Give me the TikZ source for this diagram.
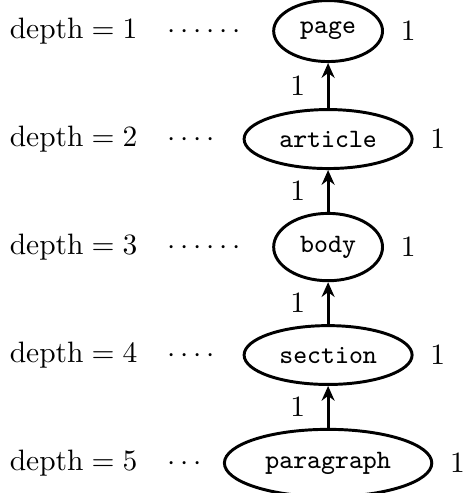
\documentclass[tikz,border=0pt]{standalone}
\usetikzlibrary{shapes.geometric,arrows.meta,positioning}

\tikzset{
  tag/.style={draw, ellipse, line width=1pt, inner xsep=3.6pt, inner ysep=4.3pt, font=\small\ttfamily},
  up/.style={-{Stealth[length=5pt,width=4.4pt]}, line width=1pt},
}

\begin{document}
\begin{tikzpicture}
    \useasboundingbox (0,0) rectangle (5.52,5.875);

    % One row per level: depth label, element, count
    \foreach \d/\name/\lead in {1/page/\cdots\cdots, 2/article/\cdotp\cdotp\cdotp\cdotp,
        3/body/\cdots\cdots, 4/section/\cdotp\cdotp\cdotp\cdotp, 5/paragraph/\cdots} {
        \node[tag] (\name) at (3.91, 6.792-1.287*\d) {\name};
        \node[anchor=west, inner sep=0pt] (lbl\d) at (0.11, 6.792-1.287*\d) {$\mathrm{depth}=\d$\quad$\lead$};
        \node[right=5.5pt of \name, inner sep=0pt] (cnt\d) {$1$};
    }

    % Child to parent links
    \foreach \lo/\hi in {article/page, body/article, section/body, paragraph/section}
        \draw[up] (\lo) -- node[left=4pt] (w\lo) {$1$} (\hi);
\end{tikzpicture}
\end{document}
